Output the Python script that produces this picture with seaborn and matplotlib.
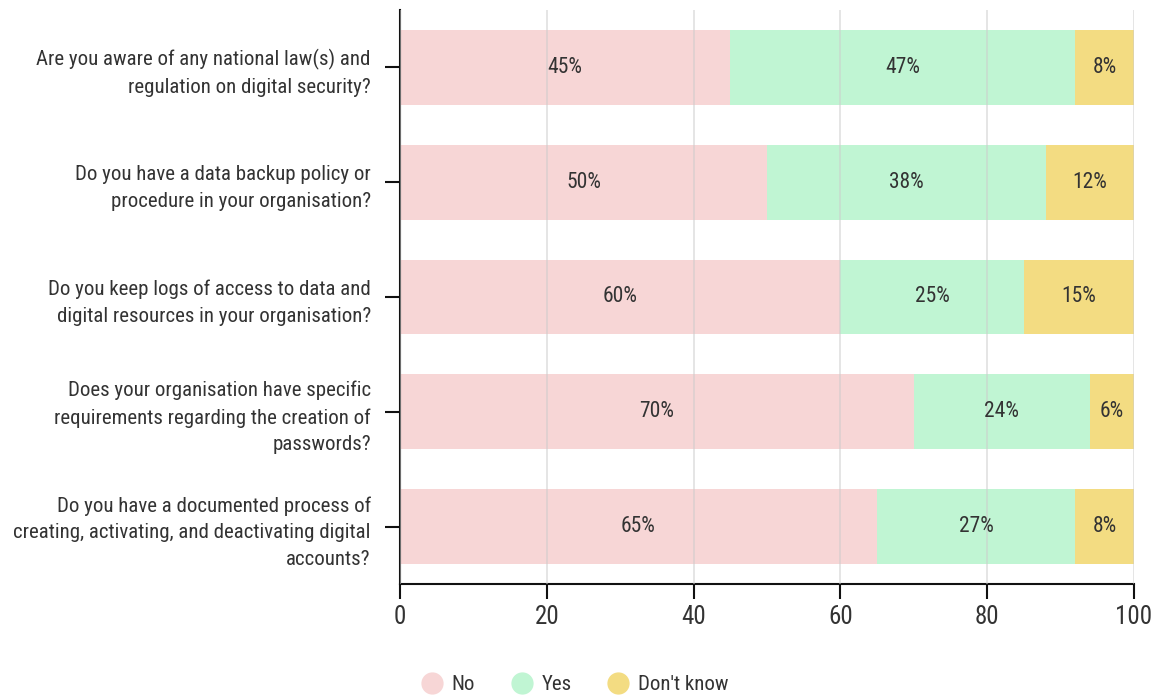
import matplotlib
matplotlib.use("Agg")
import matplotlib.pyplot as plt
from matplotlib import font_manager
from matplotlib.lines import Line2D
import numpy as np
import pandas as pd
import seaborn as sns

questions = [
    "Are you aware of any national law(s) and\nregulation on digital security?",
    "Do you have a data backup policy or\nprocedure in your organisation?",
    "Do you keep logs of access to data and\ndigital resources in your organisation?",
    "Does your organisation have specific\nrequirements regarding the creation of\npasswords?",
    "Do you have a documented process of\ncreating, activating, and deactivating digital\naccounts?",
]
no_vals = [45, 50, 60, 70, 65]
yes_vals = [47, 38, 25, 24, 27]
dk_vals = [8, 12, 15, 6, 8]
series_names = ["No", "Yes", "Don't know"]
series_colors = ["#f7d6d6", "#c0f5d3", "#f3dc82"]
x_ticks = [0, 20, 40, 60, 80, 100]

sns.set_theme(style="white")
available = {f.name for f in font_manager.fontManager.ttflist}
family = next((f for f in ["Roboto Condensed", "Liberation Sans Narrow", "Roboto"] if f in available), "DejaVu Sans")
plt.rcParams["font.family"] = [family, "DejaVu Sans"]
text_color = "#333333"

df = pd.DataFrame({"question": questions, "No": no_vals, "Yes": yes_vals, "Don't know": dk_vals})
df["c1"] = df["No"]
df["c2"] = df["No"] + df["Yes"]
df["c3"] = df["c2"] + df["Don't know"]

fig = plt.figure(figsize=(11.57, 6.98), dpi=100)
ax = fig.add_axes([400 / 1157, 1 - 584 / 698, 734 / 1157, 574 / 698])

# stacked bars: draw cumulative totals from the largest down
for col, color in zip(["c3", "c2", "c1"], series_colors[::-1]):
    sns.barplot(data=df, y="question", x=col, orient="h", color=color,
                width=0.65, saturation=1, ax=ax, zorder=1, linewidth=0)

# segment labels at segment centres
for i, row in df.iterrows():
    starts = [0, row["c1"], row["c2"]]
    vals = [row["No"], row["Yes"], row["Don't know"]]
    for s, v in zip(starts, vals):
        ax.text(s + v / 2, i, f"{v}%", ha="center", va="center",
                fontsize=15.5, color=text_color, zorder=3)

ax.set_xlim(0, 100)
ax.set_ylim(4.5, -0.5)
ax.set_xticks(x_ticks)
ax.set_xlabel("")
ax.set_ylabel("")
ax.grid(axis="x", color="#cccccc", linewidth=1.2, alpha=0.6, zorder=2)
ax.set_axisbelow(False)
ax.grid(axis="y", visible=False)
for side in ["top", "right"]:
    ax.spines[side].set_visible(False)
for side in ["left", "bottom"]:
    ax.spines[side].set_color("#111111")
    ax.spines[side].set_linewidth(1.5)
ax.tick_params(axis="x", length=11, width=1.5, color="#111111", labelsize=18,
               labelcolor=text_color, pad=4, bottom=True)
ax.tick_params(axis="y", length=11, width=1.5, color="#111111", labelsize=15,
               labelcolor=text_color, pad=10, left=True)
for lbl in ax.get_yticklabels():
    lbl.set_linespacing(1.5)
    lbl.set_ha("right")

handles = [Line2D([0], [0], marker="o", linestyle="", markersize=15,
                  markerfacecolor=c, markeredgecolor=c) for c in series_colors]
fig.legend(handles, series_names, loc="center", bbox_to_anchor=(575 / 1157, 1 - 685 / 698),
           ncol=3, frameon=False, fontsize=15, handlelength=1.0, handletextpad=0.45,
           columnspacing=1.75, labelcolor=text_color)

fig.savefig("out.png", dpi=100)
